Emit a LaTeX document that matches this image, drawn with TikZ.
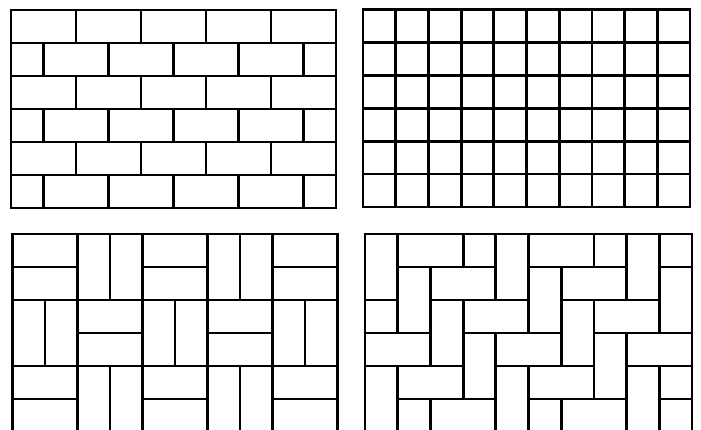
\documentclass[tikz,border=0pt]{standalone}
\begin{document}
\begin{tikzpicture}[x=1pt,y=-1pt,
  ln/.style={line width=2.8pt,black,line cap=rect,line join=miter}]
\useasboundingbox (0,0) rectangle (701,430);
\begin{scope}
\clip (0,0) rectangle (701,430);
% ---- top-left: running bond ----
\draw[ln] (11,10) rectangle (336,208);
\foreach \i in {1,...,5} \draw[ln] (11,{10+33*\i}) -- (336,{10+33*\i});
\foreach \i in {0,2,4} \foreach \k in {1,...,4} \draw[ln] ({11+65*\k},{10+33*\i}) -- ++(0,33);
\foreach \i in {1,3,5} \foreach \k in {0,...,4} \draw[ln] ({43.5+65*\k},{10+33*\i}) -- ++(0,33);
% ---- top-right: stack bond grid ----
\draw[ln] (363,9.5) rectangle (690,207);
\foreach \k in {1,...,9} \draw[ln] ({363+32.7*\k},9.5) -- ({363+32.7*\k},207);
\foreach \i in {1,...,5} \draw[ln] (363,{9.5+32.92*\i}) -- (690,{9.5+32.92*\i});
% ---- bottom-left: basket weave ----
\draw[ln] (12.5,445) -- (12.5,234) -- (337.5,234) -- (337.5,445);
\foreach \k in {1,...,4} \draw[ln] ({12.5+65*\k},234) -- ({12.5+65*\k},445);
\foreach \j in {1,2} \draw[ln] (12.5,{234+66*\j}) -- (337.5,{234+66*\j});
\foreach \bx in {0,...,4} {
  \foreach \by in {0,1,2} {
    \pgfmathtruncatemacro\blkpar{mod(\bx+\by,2)}
    \ifnum\blkpar=0
      \draw[ln] ({12.5+65*\bx},{234+66*\by+33}) -- ++(65,0);
    \else
      \draw[ln] ({12.5+65*\bx+32.5},{234+66*\by}) -- ++(0,66);
    \fi
  }
}
% ---- bottom-right: herringbone ----
\begin{scope}
\clip (365,234) rectangle (692,445);
\foreach \r in {-1,...,6} {
  \foreach \k in {-3,...,3} {
    \pgfmathsetmacro\c{\r+4*\k}
    \draw[ln] ({365+32.7*\c},{234+33*\r}) rectangle ++(32.7,66);
    \draw[ln] ({365+32.7*(\c+1)},{234+33*\r}) rectangle ++(65.4,33);
  }
}
\end{scope}
\draw[ln] (365,445) -- (365,234) -- (692,234) -- (692,445);
\end{scope}
\end{tikzpicture}
\end{document}
